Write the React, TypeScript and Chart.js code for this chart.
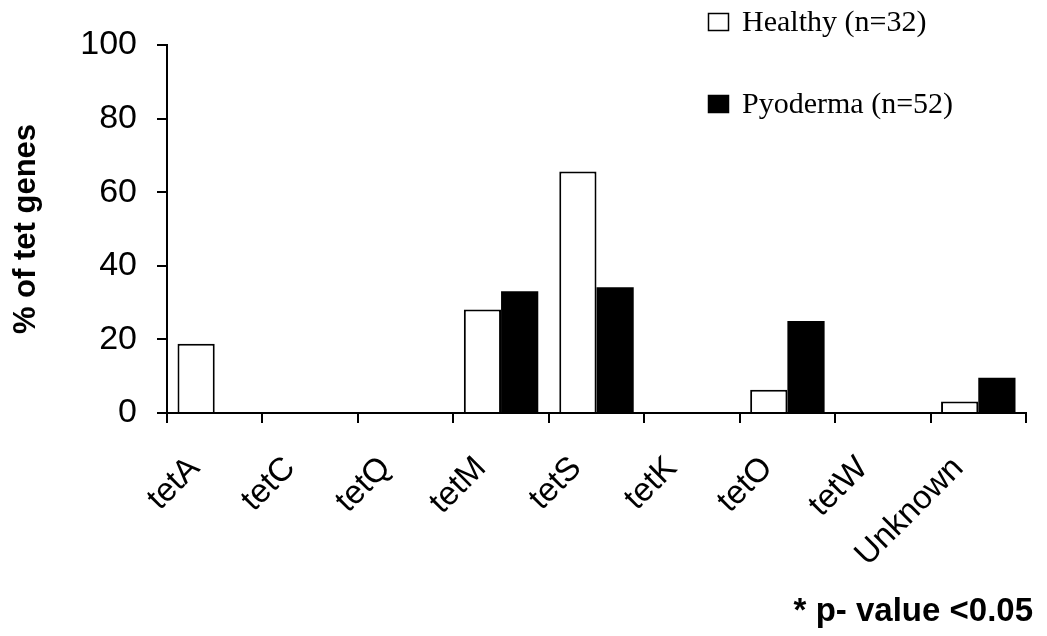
import { useEffect, useRef } from "react";
import { Chart, registerables } from "chart.js";

Chart.register(...registerables);

const categories = ["tetA", "tetC", "tetQ", "tetM", "tetS", "tetK", "tetO", "tetW", "Unknown"];
const healthy = [18.8, 0, 0, 28.1, 65.6, 0, 6.3, 0, 3.1];
const pyoderma = [0, 0, 0, 33.1, 34.2, 0, 25.0, 0, 9.6];
const seriesLabels = ["Healthy (n=32)", "Pyoderma (n=52)"];
const yTitle = "% of tet genes";
const footnote = "* p- value <0.05";
const yMin = 0;
const yMax = 100;
const yStep = 20;

const SANS = '"Liberation Sans", Arial, sans-serif';
const SERIF = '"Liberation Serif", "Times New Roman", serif';

const legendPlugin = {
  id: "customLegend",
  afterDraw(chart: any) {
    const ctx = chart.ctx;
    const rows = [22, 104];
    ctx.save();
    chart.data.datasets.forEach((ds: any, i: number) => {
      const cy = rows[i];
      ctx.fillStyle = ds.backgroundColor;
      ctx.fillRect(708, cy - 9, 21, 18);
      ctx.lineWidth = 1.5;
      ctx.strokeStyle = "#000";
      ctx.strokeRect(708.5, cy - 8.5, 20, 17);
      ctx.fillStyle = "#000";
      ctx.font = `30px ${SERIF}`;
      ctx.textBaseline = "middle";
      ctx.textAlign = "left";
      ctx.fillText(ds.label, 742, cy + 1);
    });
    ctx.font = `bold 33px ${SANS}`;
    ctx.textAlign = "right";
    ctx.textBaseline = "alphabetic";
    ctx.fillStyle = "#000";
    ctx.fillText(footnote, 1033, 621);
    ctx.restore();
  },
};

export default function App() {
  const canvasRef = useRef<HTMLCanvasElement | null>(null);

  useEffect(() => {
    if (!canvasRef.current) return;
    const chart = new Chart(canvasRef.current, {
      type: "bar",
      data: {
        labels: categories,
        datasets: [
          {
            label: seriesLabels[0],
            data: healthy,
            backgroundColor: "#ffffff",
            borderColor: "#000000",
            borderWidth: 2,
          },
          {
            label: seriesLabels[1],
            data: pyoderma,
            backgroundColor: "#000000",
            borderColor: "#000000",
            borderWidth: 0,
          },
        ],
      },
      options: {
        animation: false,
        responsive: true,
        maintainAspectRatio: false,
        datasets: {
          bar: { barPercentage: 1, categoryPercentage: 0.78 },
        },
        layout: { padding: { top: 45, right: 21, left: 0, bottom: 0 } },
        plugins: {
          legend: { display: false },
          tooltip: { enabled: false },
        },
        scales: {
          x: {
            offset: true,
            grid: {
              display: true,
              drawOnChartArea: false,
              drawTicks: true,
              offset: true,
              tickLength: 10,
              color: "#000",
              lineWidth: 2,
            },
            border: { display: true, color: "#000", width: 2 },
            ticks: {
              autoSkip: false,
              maxRotation: 45,
              minRotation: 45,
              color: "#000",
              padding: 26,
              labelOffset: -20,
              font: { family: SANS, size: 33 },
            },
            afterFit: (scale: any) => {
              scale.height = 223;
            },
          },
          y: {
            min: yMin,
            max: yMax,
            grid: {
              display: true,
              drawOnChartArea: false,
              drawTicks: true,
              tickLength: 10,
              color: "#000",
              lineWidth: 2,
            },
            border: { display: true, color: "#000", width: 2 },
            ticks: {
              stepSize: yStep,
              color: "#000",
              padding: 20,
              font: { family: SANS, size: 34 },
            },
            title: {
              display: true,
              text: yTitle,
              color: "#000",
              font: { family: SANS, size: 31, weight: "bold" },
              padding: { top: 8, bottom: 0 },
            },
            afterFit: (scale: any) => {
              scale.width = 167;
            },
          },
        },
      },
      plugins: [legendPlugin],
    });
    return () => chart.destroy();
  }, []);

  return (
    <div style={{ position: "absolute", left: 0, top: 0, width: 1047, height: 636 }}>
      <canvas ref={canvasRef} />
    </div>
  );
}
